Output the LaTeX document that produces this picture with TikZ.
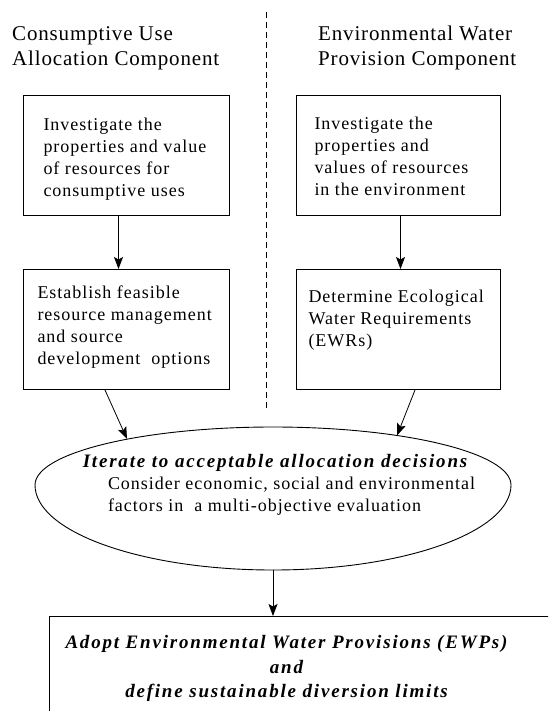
\documentclass[tikz,border=0pt]{standalone}
\usepackage{fontspec}
\setmainfont{Liberation Serif}
\newfontfamily\titlefont[LetterSpace=4]{Liberation Serif}
\newfontfamily\bodyfont[LetterSpace=5.5]{Liberation Serif}
\newfontfamily\emphfont[LetterSpace=9.5]{Liberation Serif}
\usetikzlibrary{arrows.meta}

% #1 width, #2 indent, #3 first baseline, #4 text
\newcommand\boxcontent[4]{%
  \parbox[c][120pt][t]{#1}{\setlength\parindent{0pt}%
    \fontsize{18pt}{22pt}\bodyfont\setlength\leftskip{#2}%
    \rule{0pt}{#3}#4\par}}

\tikzset{
  box/.style={draw, rectangle, line width=1pt, inner sep=0pt},
  oval/.style={draw, line width=0.9pt},
  arr/.style={line width=0.8pt, -{Stealth[length=12pt,width=9pt,inset=2.5pt]}},
  divider/.style={line width=0.8pt, dash pattern=on 6pt off 4pt},
  heading/.style={inner sep=0pt, anchor=base west},
  ovaltext/.style={inner sep=0pt, anchor=base}
}

\begin{document}
\begin{tikzpicture}[x=1pt,y=-1pt]
\clip (0,0) rectangle (548,711);

% headings
\node[heading] (tl) at (12,41) {\parbox[t]{260pt}{\fontsize{21pt}{25pt}\titlefont
  Consumptive Use\\Allocation Component}};
\node[heading] (tr) at (318,41) {\parbox[t]{230pt}{\fontsize{21pt}{25pt}\titlefont
  Environmental Water\\Provision Component}};

% divider
\draw[divider] (266,12) -- (266,410);

% boxes
\node[box, anchor=north west] (l1) at (23,95)
  {\boxcontent{206pt}{20pt}{35pt}{Investigate the\\properties and value\\of resources for\\consumptive uses}};
\node[box, anchor=north west] (r1) at (296,95)
  {\boxcontent{204pt}{18pt}{34pt}{Investigate the\\properties and\\values of resources\\in the environment}};
\node[box, anchor=north west] (l2) at (23,269)
  {\boxcontent{206pt}{14pt}{29pt}{Establish feasible\\resource management\\and source\\development\ \ options}};
\node[box, anchor=north west] (r2) at (296,269)
  {\boxcontent{204pt}{12pt}{33pt}{Determine Ecological\\Water Requirements\\(EWRs)}};

% oval (flatter above its widest line than below)
\draw[oval] (511,485) arc[start angle=0,end angle=-180,x radius=238,y radius=58]
                      arc[start angle=-180,end angle=-360,x radius=238,y radius=85] -- cycle;
\coordinate (eL) at (127,439);
\coordinate (eR) at (397,435.5);
\coordinate (eB) at (273,570);

\node[ovaltext] (ell) at (275,467) {\parbox[t]{440pt}{\setlength\parindent{0pt}%
  {\centering\fontsize{19pt}{22pt}\emphfont\bfseries\itshape
   Iterate to acceptable allocation decisions\par}%
  {\fontsize{18pt}{22pt}\bodyfont\setlength\leftskip{53pt}%
   Consider economic, social and environmental\\factors in\ \ a multi-objective evaluation\par}}};

% bottom box
\node[box, anchor=north west] (bot) at (49,616) {\parbox[c][120pt][t]{510pt}{%
  \centering\setlength\rightskip{36pt plus 1fil}%
  \fontsize{19pt}{24.5pt}\emphfont\bfseries\itshape
  \rule{0pt}{32pt}Adopt Environmental Water Provisions (EWPs)\\and\\define sustainable diversion limits\par}};

% connectors
\draw[arr] ([xshift=-8pt]l1.south) -- ([xshift=-8pt]l2.north);
\draw[arr] ([xshift=2pt]r1.south) -- ([xshift=2pt]r2.north);
\draw[arr] ([xshift=82pt]l2.south west) -- (eL);
\draw[arr] ([xshift=119pt]r2.south west) -- (eR);
\draw[arr] (eB) -- (eB |- bot.north);
\end{tikzpicture}
\end{document}
